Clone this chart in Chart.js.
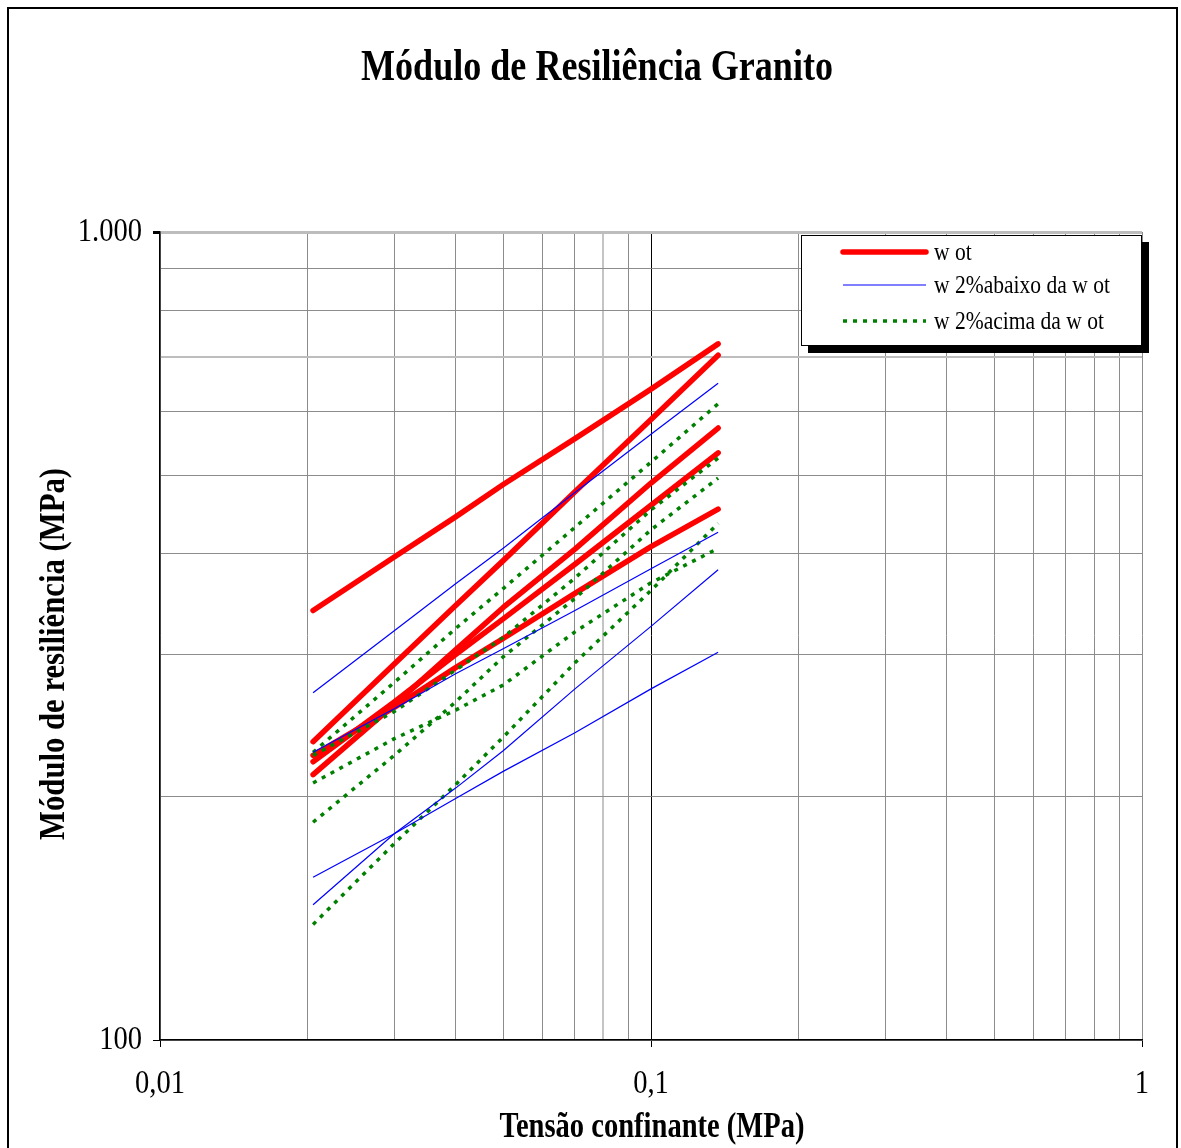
<!DOCTYPE html>
<html>
<head>
<meta charset="utf-8">
<script src="https://cdn.jsdelivr.net/npm/chart.js@4.4.0/dist/chart.umd.min.js"></script>
<style>
  body { margin: 0; background: #fff; }
  canvas { display: block; }
</style>
</head>
<body>
<canvas id="chartCanvas" width="1181" height="1148"></canvas>
<script>
// confining stress (MPa) at which every curve is sampled
const confiningStress = [0.0205, 0.03, 0.04, 0.05, 0.07, 0.1, 0.137];

// resilient modulus (MPa) - moisture at optimum
const wot1 = [340, 396, 444, 487, 555, 639, 727];
const wot2 = [234, 292, 345, 392, 477, 586, 704];
const wot3 = [213, 260, 304, 343, 405, 489, 572];
const wot4 = [221, 262, 300, 332, 388, 459, 533];
const wot5 = [225, 258, 289, 314, 357, 408, 454];

// 2% below optimum
const below1 = [269, 321, 367, 406, 476, 562, 650];
const below2 = [227, 257, 284, 305, 340, 383, 425];
const below3 = [159, 180, 199, 215, 240, 272, 302];
const below4 = [147, 180, 205, 228, 272, 325, 382];

// 2% above optimum
const above1 = [227, 277, 323, 362, 431, 519, 613];
const above2 = [225, 255, 287, 315, 373, 453, 525];
const above3 = [186, 225, 262, 298, 352, 428, 496];
const above4 = [208, 236, 256, 275, 320, 368, 406];
const above5 = [139, 175, 207, 237, 293, 360, 436];

const xTickValues = [0.01, 0.1, 1];
const xTickLabels = ['0,01', '0,1', '1'];
const yTickValues = [100, 1000];
const yTickLabels = ['100', '1.000'];
const legendLabels = ['w ot', 'w 2%abaixo da w ot', 'w 2%acima da w ot'];

const SERIF = '"Liberation Serif", "Times New Roman", serif';

const wotStyle = { borderColor: '#ff0000', borderWidth: 5.5, borderCapStyle: 'round', borderJoinStyle: 'round', order: 2 };
const belowStyle = { borderColor: '#0000ff', borderWidth: 1.2, order: 0 };
const aboveStyle = { borderColor: '#008000', borderWidth: 3.5, borderDash: [4, 6], order: 1 };

function makeSet(values, style) {
    return Object.assign({
        data: values.map((v, i) => ({ x: confiningStress[i], y: v })),
        pointRadius: 0,
        tension: 0,
        fill: false
    }, style);
}

// log grid: 1..9 in every decade
function decadeTicks(from, to) {
    const ticks = [];
    for (let d = from; d < to * 0.999; d *= 10) {
        for (let k = 1; k <= 9; k++) ticks.push({ value: Number((k * d).toPrecision(3)) });
    }
    ticks.push({ value: to });
    return ticks;
}

// text squeezed horizontally, as in the printed sheet
function drawText(c, text, x, y, font, sx, align, baseline, rotate) {
    c.save();
    c.font = font;
    c.fillStyle = '#000';
    c.textAlign = align;
    c.textBaseline = baseline;
    c.translate(x, y);
    if (rotate) c.rotate(-Math.PI / 2);
    c.scale(sx, 1);
    c.fillText(text, 0, 0);
    c.restore();
}

function fitScale(c, text, font, width) {
    c.save();
    c.font = font;
    const w = c.measureText(text).width;
    c.restore();
    return width / w;
}

const sheetPlugin = {
    id: 'sheet',
    beforeDraw(chart) {
        const c = chart.ctx;
        c.save();
        c.fillStyle = '#fff';
        c.fillRect(0, 0, chart.width, chart.height);
        c.strokeStyle = '#000';
        c.lineWidth = 2;
        c.strokeRect(8, 8, 1169, 1200);
        c.restore();
    },
    afterDraw(chart) {
        const c = chart.ctx;
        const xs = chart.scales.x, ys = chart.scales.y;
        const area = chart.chartArea;

        // title and axis titles
        const titleFont = 'bold 44px ' + SERIF;
        const title = 'Módulo de Resiliência Granito';
        drawText(c, title, 597, 80, titleFont, fitScale(c, title, titleFont, 472), 'center', 'alphabetic');

        const axisFont = 'bold 36px ' + SERIF;
        const xTitle = 'Tensão confinante (MPa)';
        drawText(c, xTitle, 652, 1137, axisFont, fitScale(c, xTitle, axisFont, 305), 'center', 'alphabetic');
        const yTitle = 'Módulo de resiliência (MPa)';
        drawText(c, yTitle, 64, 654, axisFont, fitScale(c, yTitle, axisFont, 372), 'center', 'alphabetic', true);

        // tick labels
        const tickFont = '34px ' + SERIF;
        xTickValues.forEach((v, i) => {
            drawText(c, xTickLabels[i], xs.getPixelForValue(v), 1084, tickFont, 0.84, 'center', 'middle');
        });
        yTickValues.forEach((v, i) => {
            drawText(c, yTickLabels[i], area.left - 18, ys.getPixelForValue(v), tickFont, 0.84, 'right', 'middle');
        });

        // legend box with drop shadow
        const lx = 801, ly = 235, lw = 341, lh = 111;
        c.save();
        c.fillStyle = '#000';
        c.fillRect(lx + 7, ly + 7, lw, lh);
        c.fillStyle = '#fff';
        c.fillRect(lx, ly, lw, lh);
        c.strokeStyle = '#000';
        c.lineWidth = 1;
        c.strokeRect(lx + 0.5, ly + 0.5, lw - 1, lh - 1);

        const rows = [252, 285, 321];
        const styles = [wotStyle, belowStyle, aboveStyle];
        const legendFont = '25px ' + SERIF;
        const legendScale = fitScale(c, legendLabels[1], legendFont, 176);
        rows.forEach((ry, i) => {
            const s = styles[i];
            c.beginPath();
            c.strokeStyle = s.borderColor;
            c.lineWidth = s.borderWidth;
            c.lineCap = s.borderCapStyle || 'butt';
            c.setLineDash(s.borderDash || []);
            c.moveTo(843, ry);
            c.lineTo(926, ry);
            c.stroke();
            c.setLineDash([]);
            drawText(c, legendLabels[i], 934, ry + 8, legendFont, legendScale, 'left', 'alphabetic');
        });
        c.restore();
    }
};

const chartCtx = document.getElementById('chartCanvas');

window.myChart = new Chart(chartCtx, {
    type: 'line',
    data: {
        datasets: [
            makeSet(wot1, wotStyle), makeSet(wot2, wotStyle), makeSet(wot3, wotStyle),
            makeSet(wot4, wotStyle), makeSet(wot5, wotStyle),
            makeSet(below1, belowStyle), makeSet(below2, belowStyle),
            makeSet(below3, belowStyle), makeSet(below4, belowStyle),
            makeSet(above1, aboveStyle), makeSet(above2, aboveStyle), makeSet(above3, aboveStyle),
            makeSet(above4, aboveStyle), makeSet(above5, aboveStyle)
        ]
    },
    options: {
        responsive: false,
        animation: false,
        devicePixelRatio: 1,
        layout: { padding: { top: 232, right: 39, left: 0, bottom: 0 } },
        plugins: {
            legend: { display: false },
            title: { display: false },
            tooltip: { enabled: false }
        },
        scales: {
            x: {
                type: 'logarithmic',
                min: 0.01,
                max: 1,
                afterBuildTicks: (s) => { s.ticks = decadeTicks(0.01, 1); },
                afterFit: (s) => { s.height = 108; },
                ticks: { display: false },
                grid: {
                    color: (ctx) => {
                        const v = ctx.tick && ctx.tick.value;
                        if (v === 0.1) return '#000';
                        if (v === 0.08) return '#c4c4c4';
                        return '#8c8c8c';
                    },
                    lineWidth: (ctx) => (ctx.tick && ctx.tick.value === 0.08 ? 2 : 1),
                    tickLength: 7,
                    tickColor: (ctx) => (xTickValues.includes(ctx.tick && ctx.tick.value) ? '#000' : 'rgba(0,0,0,0)')
                },
                border: { color: '#000', width: 1.5 }
            },
            y: {
                type: 'logarithmic',
                min: 100,
                max: 1000,
                afterBuildTicks: (s) => { s.ticks = decadeTicks(100, 1000); },
                afterFit: (s) => { s.width = 160; },
                ticks: { display: false },
                grid: {
                    color: (ctx) => {
                        const v = ctx.tick && ctx.tick.value;
                        if (v === 1000 || v === 700) return '#bdbdbd';
                        return '#8c8c8c';
                    },
                    lineWidth: (ctx) => {
                        const v = ctx.tick && ctx.tick.value;
                        if (v === 1000) return 3;
                        if (v === 700) return 2;
                        return 1;
                    },
                    tickLength: 7,
                    tickColor: (ctx) => (yTickValues.includes(ctx.tick && ctx.tick.value) ? '#000' : 'rgba(0,0,0,0)')
                },
                border: { color: '#000', width: 1.5 }
            }
        }
    },
    plugins: [sheetPlugin]
});
</script>
</body>
</html>
